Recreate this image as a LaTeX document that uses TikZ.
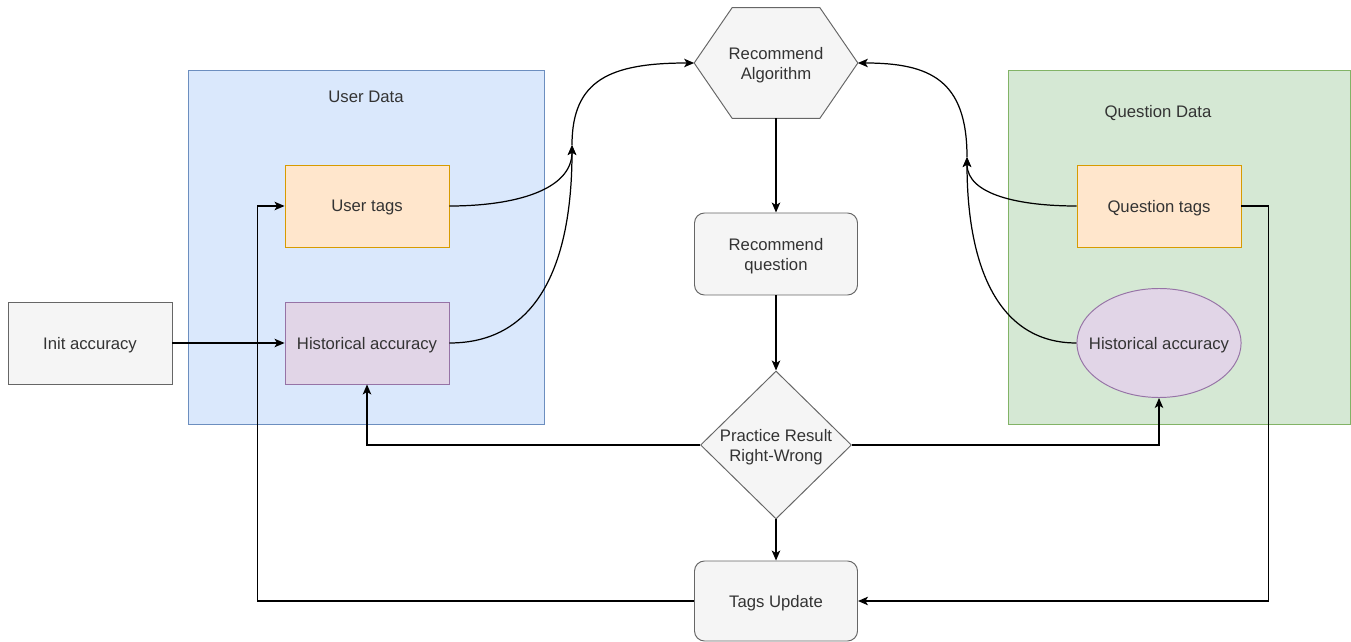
\documentclass[tikz,border=0pt]{standalone}
\usepackage{fontspec}
\setmainfont{Liberation Sans}
\usetikzlibrary{arrows.meta,calc,positioning,shapes.geometric,backgrounds}
\definecolor{bluefill}{HTML}{DAE8FC}
\definecolor{bluedraw}{HTML}{6C8EBF}
\definecolor{greenfill}{HTML}{D5E8D4}
\definecolor{greendraw}{HTML}{82B366}
\definecolor{orangefill}{HTML}{FFE6CC}
\definecolor{orangedraw}{HTML}{D79B00}
\definecolor{purplefill}{HTML}{E1D5E7}
\definecolor{purpledraw}{HTML}{9673A6}
\definecolor{grayfill}{HTML}{F5F5F5}
\definecolor{graydraw}{HTML}{666666}
\definecolor{txt}{HTML}{333333}
\tikzset{
  lbl/.style   = {text=txt, font=\fontsize{9.5}{11.4}\selectfont, align=center, inner sep=0pt,
                  text depth=0pt},
  grp/.style   = {draw, line width=0.55pt, inner sep=0pt},
  box/.style   = {lbl, draw, line width=0.55pt, minimum width=32.8mm, minimum height=16.4mm},
  tagbox/.style  = {box, draw=orangedraw, fill=orangefill},
  histbox/.style = {box, draw=purpledraw, fill=purplefill},
  graybox/.style = {box, draw=graydraw, fill=grayfill},
  rbox/.style    = {graybox, rounded corners=2mm, minimum width=32.6mm},
  oval/.style    = {box, ellipse, draw=purpledraw, fill=purplefill, inner xsep=-2.4mm,
                    minimum height=21.8mm},
  hexa/.style    = {draw=graydraw, fill=grayfill, line width=0.55pt},
  decide/.style  = {lbl, diamond, aspect=1, draw=graydraw, fill=grayfill, line width=0.55pt,
                    minimum width=30.2mm, minimum height=29.6mm},
  vec/.style   = {-{Stealth[length=2mm,width=1.7mm,inset=0.5mm]}, line width=0.7pt},
}

\begin{document}
\begin{tikzpicture}[x=0.2mm,y=-0.2mm]
  \useasboundingbox (0,0) rectangle (1351,642);
  \node[grp, draw=bluedraw, fill=bluefill, minimum width=71.2mm, minimum height=70.8mm] (udata) at (366,247) {};
  \node[grp, draw=greendraw, fill=greenfill, minimum width=68.4mm, minimum height=70.8mm] (qdata) at (1179,247) {};
  \node[lbl] (ulab) at (366,97) {User Data};
  \node[lbl] (qlab) at (1158,111) {Question Data};

  \node[tagbox] (utag) at (367,206) {User tags};
  \node[histbox] (uhist) at (367,343) {Historical accuracy};
  \node[graybox] (init) at (90,343) {Init accuracy};
  \node[tagbox] (qtag) at (1159,206) {Question tags};
  \node[oval] (qhist) at (1159,343) {Historical accuracy};

  \node[lbl, minimum width=32.6mm, minimum height=22mm] (alg) at (776,63) {Recommend\\Algorithm};
  \begin{scope}[on background layer]
    \draw[hexa] (alg.west) -- ($(alg.north west)+(38,0)$) -- ($(alg.north east)+(-38,0)$)
      -- (alg.east) -- ($(alg.south east)+(-38,0)$) -- ($(alg.south west)+(38,0)$) -- cycle;
  \end{scope}
  \node[rbox] (recq) at (776,254) {Recommend\\question};
  \node[decide] (res) at (776,445) {Practice Result\\Right-Wrong};
  \node[rbox, minimum height=16mm] (upd) at (776,601) {Tags Update};

  \coordinate (jl) at (572,145);
  \coordinate (jr) at (967,157);
  \draw[vec] (utag.east) .. controls (515,206) and (572,190) .. (jl);
  \draw[vec] (uhist.east) .. controls (540,343) and (572,260) .. (jl);
  \draw[vec] (jl) .. controls (572,80) and (610,63) .. (alg.west);
  \draw[vec] (qtag.west) .. controls (1020,206) and (967,195) .. (jr);
  \draw[vec] (qhist.west) .. controls (1000,343) and (967,270) .. (jr);
  \draw[vec] (jr) .. controls (967,80) and (930,63) .. (alg.east);

  \draw[vec] (init) -- (uhist);
  \draw[vec] (alg) -- (recq);
  \draw[vec] (recq) -- (res);
  \draw[vec] (res) -- (upd);
  \draw[vec] (res.west) -| (uhist.south);
  \draw[vec] (res.east) -| (qhist.south);
  \draw[vec] (upd.west) -| ([xshift=-5.4mm]utag.west) -- (utag.west);
  \draw[vec] (qtag.east) -- ++(27,0) |- (upd.east);
\end{tikzpicture}
\end{document}
